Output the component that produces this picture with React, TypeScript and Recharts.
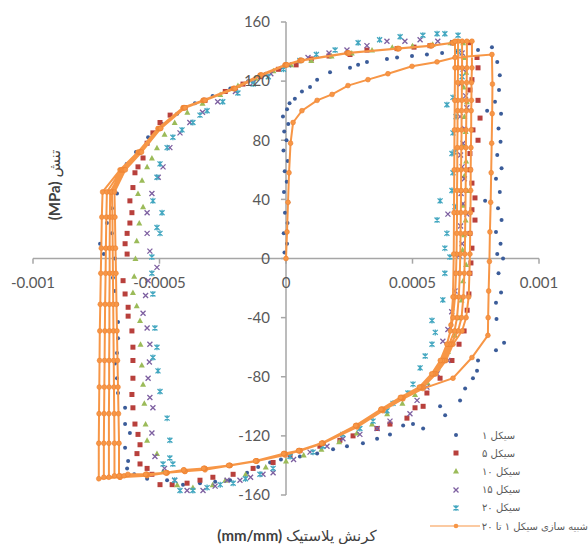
import React from "react";
import { ScatterChart, Scatter, XAxis, YAxis, ReferenceLine, ReferenceDot } from "recharts";

// strain is kept in micro-strain (1e-6 mm/mm), stress in MPa
const X_TICKS = [-1000, -500, 0, 500, 1000];
const X_TICK_LABELS = ["-0.001", "-0.0005", "0", "0.0005", "0.001"];
const Y_TICKS = [-160, -120, -80, -40, 0, 40, 80, 120, 160];

const SERIES_NAMES = ["سیکل ۱", "سیکل ۵", "سیکل ۱۰", "سیکل ۱۵", "سیکل ۲۰", "شبیه سازی سیکل ۱ تا ۲۰"];

const CYCLE_1 = [
  [-6, 4], [4, 10], [-9, 17], [6, 24], [-4, 31], [9, 38], [-8, 45], [3, 52], [-5, 59], [7, 66], [-10, 73], [2, 80], [-7, 86], [9, 91], [-12, 96], [4, 101], [14, 105],
  [35, 108], [63, 113], [95, 116], [123, 121], [174, 126], [253, 129], [285, 131], [320, 133], [399, 135], [439, 136], [498, 137], [557, 138], [617, 139], [676, 140], [759, 141], [814, 143],
  [835, 133], [845, 124], [842, 114], [826, 106], [850, 98], [795, 100], [840, 88], [848, 79], [835, 70], [852, 61], [830, 54], [845, 45], [787, 39], [838, 34], [852, 26], [830, 18], [848, 10], [835, 3], [858, 0],
  [840, -10], [850, -23], [830, -30], [832, -41], [862, -57], [830, -62], [759, -69], [755, -76], [739, -81], [708, -88], [688, -96], [609, -100], [629, -106], [502, -112], [463, -113], [542, -115], [411, -119], [360, -122], [304, -125], [241, -127], [186, -129], [123, -132], [55, -134],
  [-20, -136], [-63, -138], [-110, -141], [-154, -145], [-221, -150], [-280, -151], [-340, -152], [-407, -153], [-470, -150], [-549, -149], [-600, -146], [-628, -142],
  [-624, -137], [-636, -128], [-617, -118], [-636, -112], [-636, -101], [-664, -91], [-668, -81], [-676, -71], [-668, -64], [-664, -54], [-664, -43], [-668, -31], [-676, -22], [-684, -13], [-676, 0], [-720, 3], [-735, 10], [-696, 7], [-688, 17], [-708, 24], [-688, 34], [-668, 44], [-656, 55],
  [-630, 64], [-593, 72], [-545, 82], [-490, 91], [-430, 98], [-360, 105], [-290, 110], [-220, 115], [-150, 120], [-80, 125], [-20, 129], [40, 132],
];

const CYCLE_5 = [
  [755, 136], [759, 129], [735, 121], [727, 114], [759, 107], [767, 95], [739, 87], [759, 80], [727, 71], [727, 60], [735, 51], [747, 41], [735, 33], [747, 26], [727, 17], [735, 7], [731, -3],
  [727, -10], [723, -24], [716, -35], [704, -49], [684, -58], [656, -69], [609, -81], [557, -91], [542, -100], [510, -101], [478, -108], [411, -112], [360, -115], [265, -120], [213, -123], [134, -127], [55, -130], [16, -133],
  [-51, -138], [-130, -142], [-209, -146], [-289, -148], [-340, -150], [-391, -152], [-450, -153], [-498, -153], [-530, -146], [-549, -142],
  [-577, -139], [-589, -132], [-577, -126], [-585, -119], [-597, -112], [-605, -101], [-609, -92], [-605, -81], [-605, -69], [-605, -60], [-609, -49], [-624, -39], [-624, -33], [-636, -24], [-644, -15], [-628, 3], [-636, 10], [-628, 17], [-617, 24], [-609, 31], [-617, 39], [-605, 48], [-597, 58], [-585, 62], [-565, 68], [-549, 78], [-526, 85], [-498, 92], [-458, 97], [-399, 102],
  [-320, 107], [-240, 113], [-170, 118], [-100, 123], [-30, 128], [40, 131], [100, 135], [170, 137], [253, 138], [320, 141], [439, 142], [506, 143], [569, 144], [660, 146], [727, 146],
];

const CYCLE_10 = [
  [700, 146], [706, 136], [712, 126], [702, 116], [715, 106], [705, 96], [710, 86], [700, 76], [712, 66], [705, 56], [716, 46], [700, 36], [710, 26], [704, 16], [698, 6], [712, -4], [700, -15],
  [694, -28], [684, -40], [668, -52], [640, -63], [600, -74], [560, -84], [510, -92], [460, -98], [400, -105], [340, -112], [280, -118], [210, -124], [140, -129], [70, -133], [0, -137],
  [-80, -141], [-160, -146], [-240, -150], [-290, -153], [-368, -155], [-430, -153], [-486, -144],
  [-510, -132], [-549, -123], [-555, -112], [-560, -98], [-565, -85], [-570, -72], [-575, -58], [-577, -42], [-590, -32], [-605, -23], [-600, -12], [-595, 0], [-590, 12], [-580, 24], [-565, 35], [-585, 44], [-569, 53], [-549, 62], [-530, 68], [-510, 75], [-480, 84], [-440, 92], [-390, 99],
  [-330, 105], [-260, 111], [-190, 117], [-120, 122], [-50, 127], [20, 131], [100, 134], [180, 137], [260, 139], [340, 141], [420, 143], [500, 144], [580, 145], [650, 146],
];

const CYCLE_15 = [
  [87, 136], [170, 139], [241, 141], [320, 144], [399, 147], [470, 147], [530, 148], [600, 147], [660, 146],
  [696, 139], [700, 128], [690, 118], [710, 110], [715, 102], [688, 96], [705, 88], [700, 78], [690, 70], [696, 62], [705, 54], [692, 44], [700, 37], [715, 30], [640, 30], [690, 22], [696, 10], [684, 2],
  [676, -10], [668, -22], [655, -36], [640, -48], [620, -56], [640, -69], [597, -78], [557, -87], [518, -96], [490, -105], [411, -110], [360, -115], [292, -119], [225, -122], [162, -127], [95, -131], [30, -136],
  [-51, -145], [-91, -146], [-140, -148], [-182, -150], [-233, -150], [-280, -154], [-328, -157], [-391, -157], [-440, -150], [-480, -142],
  [-518, -134], [-530, -118], [-526, -101], [-538, -94], [-545, -81], [-540, -70], [-538, -58], [-549, -47], [-565, -37], [-555, -25], [-545, -15], [-510, -6], [-538, 5], [-549, 17], [-549, 31], [-530, 44], [-505, 55], [-486, 62], [-459, 75], [-419, 85], [-380, 92],
  [-330, 99], [-270, 106], [-200, 113], [-130, 119], [-60, 125], [10, 131],
];

const CYCLE_20 = [
  [55, 134], [120, 138], [194, 141], [285, 146], [370, 148], [451, 150], [541, 151], [597, 152], [628, 152], [680, 151],
  [680, 140], [696, 123], [660, 109], [636, 104], [672, 96], [660, 85], [668, 72], [656, 71], [660, 58], [656, 46], [609, 39], [668, 35], [597, 26], [636, 17], [628, 7], [648, 1],
  [628, -10], [620, -28], [577, -42], [590, -50], [577, -58], [550, -66], [530, -74], [502, -85], [482, -91], [423, -98], [399, -103], [344, -110], [292, -115], [225, -119], [146, -127], [107, -131], [16, -134],
  [-51, -142], [-103, -146], [-160, -149], [-209, -152], [-260, -153], [-312, -155], [-368, -157], [-419, -157], [-440, -150], [-447, -139], [-486, -139],
  [-459, -135], [-459, -123], [-470, -108], [-498, -90], [-506, -76], [-526, -67], [-510, -60], [-518, -47], [-526, -24], [-530, -10], [-530, 1], [-510, 21], [-498, 17], [-490, 31], [-526, 39], [-510, 55], [-498, 64], [-470, 75], [-447, 82], [-411, 87], [-368, 92], [-340, 97], [-312, 100],
  [-250, 106], [-190, 112], [-130, 118], [-70, 123], [-10, 128],
];

// simulated loops, cycles 1 to 20, drawn as one connected path
const SIMULATION = [
  [0, 0], [4, 18], [8, 38], [12, 58], [18, 78], [28, 92], [63, 100], [123, 107], [182, 111], [245, 117], [324, 121], [403, 125], [498, 130], [597, 133], [668, 136], [814, 138],
  [816, 118], [815, 98], [813, 78], [811, 58], [809, 38], [806, 18], [804, -2], [801, -22], [799, -40], [798, -52], [735, -67], [660, -81], [541, -88], [462, -95], [383, -103], [281, -114], [146, -125], [55, -130], [-4, -133],
  [-115, -137], [-221, -140], [-320, -143], [-399, -144], [-470, -145], [-549, -147], [-656, -148], [-740, -149],
  [-740, -125], [-739, -105], [-738, -87], [-737, -69], [-736, -49], [-734, -31], [-732, -10], [-730, 7], [-728, 28], [-725, 45],
  [-656, 60], [-585, 72], [-506, 88], [-407, 102], [-328, 107], [-209, 115], [-103, 124], [-4, 131], [55, 134], [241, 139], [439, 142], [569, 144], [660, 146], [735, 147],
  [735, 129], [733, 119], [733, 107], [732, 100], [732, 87], [731, 75], [730, 60], [730, 46], [729, 31], [728, 17], [727, 3], [725, -10], [722, -26], [712, -40], [696, -49], [660, -58], [632, -69], [593, -78], [541, -87], [462, -94], [383, -102], [281, -113], [146, -125], [55, -130], [-4, -132],
  [-115, -137], [-221, -140], [-320, -142], [-399, -144], [-470, -145], [-549, -146], [-656, -148], [-720, -148],
  [-720, -125], [-719, -105], [-718, -87], [-717, -69], [-716, -49], [-715, -31], [-713, -10], [-712, 7], [-710, 28], [-708, 45],
  [-650, 60], [-580, 72], [-502, 88], [-405, 102], [-326, 107], [-207, 115], [-101, 124], [-2, 131], [57, 134], [243, 139], [441, 142], [571, 144], [660, 146], [715, 147],
  [715, 129], [714, 119], [713, 107], [713, 100], [712, 87], [711, 75], [711, 60], [710, 46], [709, 31], [708, 17], [707, 3], [705, -10], [701, -26], [694, -40], [680, -49], [652, -58], [625, -69], [588, -78], [536, -87], [458, -94], [380, -102], [279, -113], [144, -125], [53, -130], [-6, -132],
  [-117, -137], [-223, -140], [-322, -142], [-401, -144], [-472, -145], [-551, -146], [-656, -147], [-700, -148],
  [-700, -125], [-700, -105], [-699, -87], [-699, -69], [-698, -49], [-698, -31], [-697, -10], [-697, 7], [-696, 28], [-695, 45],
  [-645, 60], [-577, 72], [-499, 88], [-403, 102], [-324, 107], [-205, 115], [-99, 124], [0, 131], [59, 134], [245, 139], [443, 142], [573, 144], [660, 146], [696, 147],
  [696, 129], [695, 119], [695, 107], [694, 100], [694, 87], [693, 75], [692, 60], [692, 46], [691, 31], [690, 17], [689, 3], [687, -10], [683, -26], [676, -40], [666, -49], [645, -58], [618, -69], [582, -78], [531, -87], [455, -94], [377, -102], [277, -113], [142, -125], [51, -130], [-8, -132],
  [-119, -137], [-225, -140], [-324, -142], [-403, -143], [-474, -145], [-553, -146], [-640, -147], [-678, -147],
  [-678, -125], [-679, -105], [-680, -87], [-681, -69], [-682, -49], [-683, -31], [-684, -10], [-685, 7], [-686, 28], [-688, 45],
  [-640, 60], [-574, 72], [-497, 88], [-401, 102], [-322, 107], [-203, 115], [-97, 124], [2, 131], [61, 134], [247, 139], [445, 142], [575, 144], [660, 146], [680, 147],
  [680, 129], [679, 119], [679, 107], [678, 100], [678, 87], [677, 75], [677, 60], [676, 46], [676, 31], [675, 17], [674, 3], [672, -10], [668, -26], [660, -40], [650, -49], [636, -58], [610, -69], [576, -78], [527, -87], [452, -94], [375, -102], [275, -113], [140, -125], [49, -130], [-10, -132],
  [-121, -137], [-227, -140], [-326, -142], [-405, -143], [-476, -145], [-555, -146], [-625, -146], [-660, -147],
  [-660, -125], [-662, -105], [-664, -87], [-666, -69], [-668, -49], [-670, -31], [-672, -10], [-674, 7], [-676, 28], [-678, 45],
  [-635, 60], [-571, 72], [-495, 88], [-399, 102], [-320, 107], [-201, 115], [-95, 124], [4, 131], [63, 134], [249, 139], [447, 142], [577, 144], [660, 146], [668, 147],
  [668, 129], [667, 107], [666, 87], [665, 60], [664, 31], [663, 3], [660, -26], [652, -45],
];

const COLORS = ["#3B5C99", "#B8403C", "#9BBB59", "#7D5FA0", "#43A7C0", "#F79646"];
const FONT = "Lato, 'DejaVu Sans', sans-serif";
const AXIS_COLOR = "#A6A6A6";
const TICK_LEN_X = 3.5; // MPa
const TICK_LEN_Y = 20; // micro-strain

const pts = (arr: number[][]) => arr.map(([x, y]) => ({ x, y }));

const dot = (color: string) => (p: any) => <circle cx={p.cx} cy={p.cy} r={2} fill={color} />;
const square = (color: string) => (p: any) => <rect x={p.cx - 2.5} y={p.cy - 2.5} width={5} height={5} fill={color} />;
const triangle = (color: string) => (p: any) => (
  <path d={`M${p.cx},${p.cy - 3}L${p.cx + 3},${p.cy + 2.5}L${p.cx - 3},${p.cy + 2.5}Z`} fill={color} />
);
const cross = (color: string) => (p: any) => (
  <path d={`M${p.cx - 2.5},${p.cy - 2.5}L${p.cx + 2.5},${p.cy + 2.5}M${p.cx + 2.5},${p.cy - 2.5}L${p.cx - 2.5},${p.cy + 2.5}`} stroke={color} strokeWidth={1.3} fill="none" />
);
const star = (color: string) => (p: any) => (
  <path d={`M${p.cx - 2.5},${p.cy - 2.5}L${p.cx + 2.5},${p.cy + 2.5}M${p.cx + 2.5},${p.cy - 2.5}L${p.cx - 2.5},${p.cy + 2.5}M${p.cx},${p.cy - 3}L${p.cx},${p.cy + 3}`} stroke={color} strokeWidth={1.3} fill="none" />
);
const simDot = (color: string) => (p: any) => <circle cx={p.cx} cy={p.cy} r={2.4} fill={color} stroke="#EC8230" strokeWidth={0.6} />;

const LEGEND_ICONS = [
  <circle cx={26} cy={8} r={2} fill={COLORS[0]} />,
  <rect x={23.5} y={5.5} width={5} height={5} fill={COLORS[1]} />,
  <path d="M26,5L29,10.5L23,10.5Z" fill={COLORS[2]} />,
  <path d="M23.5,5.5L28.5,10.5M28.5,5.5L23.5,10.5" stroke={COLORS[3]} strokeWidth={1.3} />,
  <path d="M23.5,5.5L28.5,10.5M28.5,5.5L23.5,10.5M26,5L26,11" stroke={COLORS[4]} strokeWidth={1.3} />,
  <g>
    <line x1={0} y1={8} x2={50} y2={8} stroke={COLORS[5]} strokeWidth={1.2} />
    <circle cx={26} cy={8} r={2.3} fill={COLORS[5]} />
  </g>,
];

export default function App() {
  return (
    <div style={{ position: "absolute", left: 0, top: 0, width: 588, height: 544, background: "#fff", overflow: "hidden" }}>
      <ScatterChart width={588} height={544} margin={{ top: 22, right: 49, bottom: 49, left: 33 }}>
        <XAxis type="number" dataKey="x" domain={[-1000, 1000]} hide />
        <YAxis type="number" dataKey="y" domain={[-160, 160]} hide />
        <ReferenceLine y={0} stroke={AXIS_COLOR} strokeWidth={1.5} />
        <ReferenceLine x={0} stroke={AXIS_COLOR} strokeWidth={1.5} />
        {X_TICKS.map((v) => (
          <ReferenceLine key={"xt" + v} segment={[{ x: v, y: 0 }, { x: v, y: -TICK_LEN_X }]} stroke={AXIS_COLOR} strokeWidth={1.5} />
        ))}
        {Y_TICKS.map((v) => (
          <ReferenceLine key={"yt" + v} segment={[{ x: 0, y: v }, { x: -TICK_LEN_Y, y: v }]} stroke={AXIS_COLOR} strokeWidth={1.5} />
        ))}
        {X_TICKS.map((v, i) => (
          <ReferenceDot key={"xl" + v} x={v} y={0} r={0} fill="none" stroke="none"
            label={{ value: X_TICK_LABELS[i], position: "bottom", offset: 19, fill: "#595959", fontSize: 15, fontFamily: FONT }} />
        ))}
        {Y_TICKS.map((v) => (
          <ReferenceDot key={"yl" + v} x={0} y={v} r={0} fill="none" stroke="none"
            label={{ value: String(v), position: "left", offset: 16, fill: "#595959", fontSize: 15, fontFamily: FONT }} />
        ))}
        <Scatter name={SERIES_NAMES[0]} data={pts(CYCLE_1)} shape={dot(COLORS[0])} isAnimationActive={false} />
        <Scatter name={SERIES_NAMES[1]} data={pts(CYCLE_5)} shape={square(COLORS[1])} isAnimationActive={false} />
        <Scatter name={SERIES_NAMES[2]} data={pts(CYCLE_10)} shape={triangle(COLORS[2])} isAnimationActive={false} />
        <Scatter name={SERIES_NAMES[3]} data={pts(CYCLE_15)} shape={cross(COLORS[3])} isAnimationActive={false} />
        <Scatter name={SERIES_NAMES[4]} data={pts(CYCLE_20)} shape={star(COLORS[4])} isAnimationActive={false} />
        <Scatter name={SERIES_NAMES[5]} data={pts(SIMULATION)} shape={simDot(COLORS[5])}
          line={{ stroke: COLORS[5], strokeWidth: 2 }} lineType="joint" isAnimationActive={false} />
      </ScatterChart>

      <svg width={588} height={544} style={{ position: "absolute", left: 0, top: 0, pointerEvents: "none" }}>
        <text x={54} y={185} transform="rotate(-90 54 185)" textAnchor="middle" dominantBaseline="central"
          fontFamily={FONT} fontSize={15} fill="#404040">
          <tspan fontWeight="bold">(MPa)</tspan>
          <tspan> تنش</tspan>
        </text>
        <text x={297} y={535} textAnchor="middle" dominantBaseline="central"
          fontFamily={FONT} fontSize={15} fill="#404040">
          <tspan fontWeight="bold">(mm/mm)</tspan>
          <tspan> کرنش پلاستیک</tspan>
        </text>
      </svg>

      <div style={{ position: "absolute", left: 430, top: 426, width: 158 }}>
        {SERIES_NAMES.map((name, i) => (
          <div key={name} style={{ display: "flex", alignItems: "center", height: 18.2, whiteSpace: "nowrap" }}>
            <svg width={50} height={16}>{LEGEND_ICONS[i]}</svg>
            <span style={{ fontFamily: "'DejaVu Sans', sans-serif", fontSize: 10, color: "#595959", marginLeft: 2 }}>{name}</span>
          </div>
        ))}
      </div>
    </div>
  );
}
